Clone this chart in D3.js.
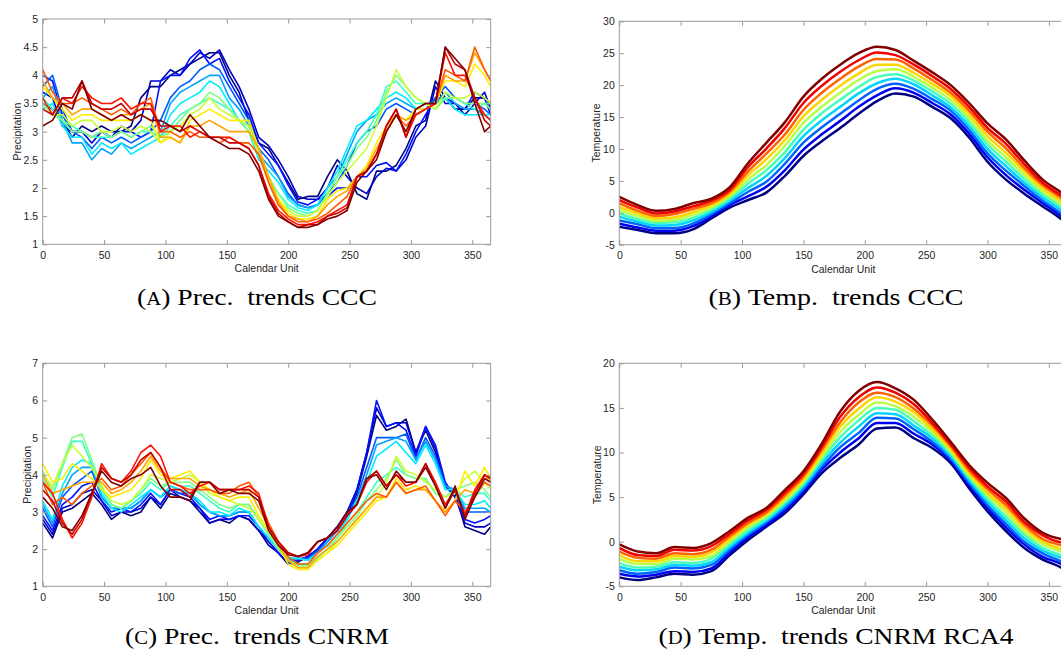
<!DOCTYPE html>
<html>
<head>
<meta charset="utf-8">
<script src="https://cdn.jsdelivr.net/npm/d3@7"></script>
<style>
  body { margin: 0; background: #fff; }
  svg { display: block; }
</style>
</head>
<body>
<svg id="fig" width="1061" height="654"></svg>
<script>
// ---------------- DATA ----------------
const xTicks = [0, 50, 100, 150, 200, 250, 300, 350];
const yTicksA = [1, 1.5, 2, 2.5, 3, 3.5, 4, 4.5, 5];
const yTicksB = [-5, 0, 5, 10, 15, 20, 25, 30];
const yTicksC = [1, 2, 3, 4, 5, 6, 7];
const yTicksD = [-5, 0, 5, 10, 15, 20];
const captions = ["Prec.\u2002trends CCC", "Temp.\u2002trends CCC", "Prec.\u2002trends CNRM", "Temp.\u2002trends CNRM RCA4"];
const captionLetters = ["A", "B", "C", "D"];

const dayPrec = [0,8,16,24,32,40,48,56,64,72,80,88,96,104,112,120,128,136,144,152,160,168,176,184,192,200,208,216,224,232,240,248,256,264,272,280,288,296,304,312,320,328,336,344,352,360,365];
const dayTemp = [0,15,30,45,60,75,90,105,120,135,150,165,180,195,210,225,240,255,270,285,300,315,330,345,360,365];

// (A) Precipitation CCC, members ordered blue -> red
const pA0  = [3.5,3.4,3.2,2.9,3.1,3.0,3.1,3.0,3.0,3.1,3.6,3.8,3.8,4.0,4.1,4.2,4.3,4.4,4.4,4.0,3.7,3.2,2.8,2.7,2.4,2.1,1.8,1.85,1.85,2.2,2.5,2.3,1.9,1.8,2.3,2.3,2.4,2.7,3.1,3.2,3.9,3.6,3.4,3.4,3.6,3.6,3.5];
const pA0b = [3.7,3.6,3.1,3.0,3.0,2.8,3.0,2.9,3.1,3.0,3.2,3.9,3.9,4.1,4.0,4.2,4.4,4.3,4.45,4.1,3.8,3.4,2.9,2.75,2.5,2.2,1.85,1.8,1.8,2.0,2.4,2.2,2.0,1.9,2.2,2.35,2.3,2.5,2.9,3.1,3.8,3.5,3.5,3.3,3.5,3.7,3.4];
const pA1  = [4.0,3.9,3.3,3.0,3.0,2.9,3.0,2.9,3.0,3.0,2.9,3.0,3.9,4.0,4.0,4.3,4.45,4.2,4.3,3.9,3.6,3.3,2.8,2.6,2.4,2.05,1.75,1.7,1.8,1.85,2.0,2.0,2.2,2.2,2.4,2.45,2.3,2.6,3.0,3.3,3.6,3.6,3.5,3.4,3.7,3.6,3.3];
const pA2  = [3.8,4.0,3.4,3.0,2.9,2.7,2.9,2.8,2.9,2.8,2.9,3.0,3.2,3.6,3.8,3.9,4.1,4.2,4.1,3.8,3.5,3.2,2.7,2.5,2.2,1.9,1.7,1.65,1.7,1.9,2.1,2.4,2.8,3.0,3.1,3.4,3.5,3.4,3.3,3.4,3.6,3.8,3.6,3.5,3.5,3.4,3.3];
const pA2b = [3.6,3.8,3.2,2.8,2.8,2.5,2.7,2.6,2.8,2.7,2.8,2.9,3.0,3.5,3.7,3.8,3.9,4.0,4.0,3.6,3.4,3.1,2.6,2.4,2.2,1.85,1.7,1.65,1.7,2.0,2.2,2.6,3.0,3.2,3.3,3.5,3.6,3.5,3.4,3.4,3.5,3.7,3.5,3.4,3.4,3.3,3.2];
const pA3  = [3.4,3.5,3.1,2.9,2.9,2.6,2.8,2.7,2.8,2.6,2.7,2.8,2.9,3.3,3.5,3.6,3.7,3.9,3.8,3.5,3.2,3.0,2.5,2.3,2.1,1.8,1.65,1.6,1.7,2.0,2.3,2.7,3.1,3.2,3.4,3.6,3.7,3.6,3.4,3.5,3.5,3.6,3.4,3.3,3.3,3.3,3.3];
const pA4  = [3.6,3.4,3.2,3.1,3.0,2.9,2.9,2.9,3.0,2.9,3.0,3.0,2.9,3.1,3.3,3.4,3.5,3.6,3.5,3.4,3.2,3.1,2.6,2.2,1.9,1.7,1.6,1.55,1.6,1.9,2.2,2.5,2.8,3.0,3.3,3.8,3.9,3.7,3.5,3.5,3.4,3.6,3.6,3.5,3.4,3.5,3.5];
const pA4b = [3.5,3.3,3.2,3.0,3.0,2.9,3.0,2.9,3.0,2.9,3.0,3.1,2.9,3.0,3.2,3.4,3.5,3.7,3.6,3.4,3.2,3.0,2.6,2.2,1.9,1.65,1.55,1.5,1.6,1.9,2.2,2.4,2.7,2.9,3.2,3.7,4.0,3.8,3.6,3.5,3.4,3.6,3.6,3.5,3.5,3.5,3.4];
const pA5  = [3.6,3.3,3.3,3.1,3.2,3.2,3.0,3.0,3.1,3.0,3.1,3.0,2.8,3.0,3.1,3.3,3.4,3.6,3.4,3.3,3.2,3.1,2.6,2.1,1.8,1.6,1.5,1.5,1.6,1.85,2.1,2.3,2.5,2.7,3.1,3.6,4.1,3.8,3.6,3.5,3.4,3.7,3.6,3.6,3.7,3.6,3.5];
const pA6  = [3.8,3.6,3.4,3.2,3.3,3.3,3.2,3.2,3.2,3.2,3.3,3.2,2.8,2.9,2.8,3.2,3.3,3.4,3.3,3.2,3.2,3.2,2.7,2.2,1.8,1.55,1.45,1.45,1.5,1.8,1.95,2.0,2.2,2.4,2.8,3.1,3.3,3.2,3.4,3.4,3.5,3.9,3.9,3.8,4.2,4.0,3.8];
const pA6b = [3.9,3.6,3.5,3.3,3.4,3.4,3.3,3.2,3.3,3.3,3.4,3.5,2.9,2.9,2.8,3.1,3.1,3.2,3.1,3.0,3.0,3.0,2.7,2.2,1.75,1.5,1.45,1.4,1.5,1.7,1.85,1.95,2.2,2.35,2.7,3.0,3.3,3.2,3.3,3.4,3.5,4.0,3.9,3.9,4.4,4.1,3.9];
const pA7  = [4.1,3.7,3.5,3.5,3.6,3.5,3.4,3.3,3.4,3.3,3.5,3.6,3.0,3.0,2.9,3.0,2.9,2.9,2.8,2.9,2.8,2.8,2.6,2.1,1.7,1.5,1.4,1.4,1.45,1.55,1.7,1.85,2.2,2.3,2.6,3.0,3.3,3.1,3.3,3.4,3.5,4.1,4.0,3.9,4.5,4.1,3.9];
const pA8  = [3.6,3.3,3.6,3.5,3.8,3.6,3.5,3.5,3.6,3.4,3.5,3.5,3.0,3.1,3.1,2.9,3.0,2.9,2.9,2.9,2.8,2.7,2.4,1.9,1.6,1.45,1.35,1.35,1.4,1.5,1.6,1.7,2.2,2.3,2.6,3.1,3.4,2.9,3.3,3.4,3.5,4.4,4.0,4.0,3.6,3.3,3.2];
const pA8b = [3.4,3.3,3.6,3.6,3.9,3.5,3.4,3.4,3.5,3.3,3.4,3.4,3.1,3.1,3.0,3.1,3.0,2.9,2.9,2.8,2.8,2.7,2.4,1.85,1.55,1.4,1.3,1.35,1.35,1.5,1.55,1.65,2.2,2.3,2.6,3.1,3.4,2.9,3.4,3.5,3.5,4.5,4.2,4.1,3.6,3.2,3.1];
const pA9  = [3.1,3.2,3.5,3.4,3.9,3.4,3.3,3.2,3.3,3.2,3.3,3.2,3.2,3.1,3.0,3.3,3.1,2.9,2.8,2.7,2.7,2.6,2.3,1.8,1.5,1.4,1.3,1.3,1.35,1.45,1.5,1.6,2.1,2.3,2.5,3.0,3.3,3.0,3.4,3.5,3.5,4.5,4.3,4.1,3.5,3.0,3.1];

// (B) Temperature CCC
const tB0 = [-2.2,-2.7,-3.2,-3.2,-2.6,-0.9,0.8,2.0,3.2,5.8,8.9,11.2,13.3,15.5,17.5,18.7,18.2,16.6,14.8,11.8,8.0,5.2,3.0,1.0,-1.0,-1.9];
const tB1 = [-1.7,-2.3,-2.8,-2.8,-2.1,-0.6,1.2,2.6,4.1,6.7,9.9,12.3,14.4,16.6,18.4,19.5,18.8,17.2,15.4,12.4,8.7,5.9,3.6,1.5,-0.5,-1.4];
const tB2 = [-1.2,-1.8,-2.4,-2.4,-1.7,-0.2,1.5,3.3,4.9,7.7,11.0,13.4,15.5,17.6,19.4,20.2,19.4,17.8,16.0,13.0,9.3,6.6,4.2,1.9,-0.1,-0.9];
const tB3 = [-0.6,-1.4,-2.0,-1.9,-1.2,0.1,1.9,3.9,5.8,8.6,12.0,14.5,16.6,18.7,20.3,21.0,20.1,18.4,16.5,13.6,10.0,7.3,4.7,2.4,0.4,-0.4];
const tB4 = [-0.1,-1.0,-1.6,-1.5,-0.8,0.5,2.2,4.6,6.7,9.5,13.0,15.6,17.7,19.7,21.3,21.7,20.7,19.0,17.1,14.2,10.7,8.0,5.3,2.9,0.9,0.1];
const tB5 = [0.4,-0.5,-1.3,-1.1,-0.3,0.8,2.6,5.2,7.5,10.5,14.1,16.6,18.8,20.8,22.2,22.5,21.3,19.6,17.7,14.8,11.3,8.7,5.9,3.3,1.3,0.5];
const tB6 = [0.9,-0.1,-0.9,-0.7,0.1,1.2,2.9,5.9,8.4,11.4,15.1,17.7,19.9,21.8,23.2,23.2,21.9,20.2,18.3,15.4,12.0,9.4,6.5,3.8,1.8,1.0];
const tB7 = [1.5,0.3,-0.5,-0.2,0.6,1.5,3.3,6.5,9.3,12.3,16.1,18.8,21.0,22.9,24.1,24.0,22.6,20.8,18.8,16.0,12.7,10.1,7.0,4.3,2.3,1.5];
const tB8 = [2.0,0.8,-0.1,0.2,1.0,1.9,3.6,7.2,10.1,13.3,17.2,19.9,22.1,23.9,25.1,24.7,23.2,21.4,19.4,16.6,13.3,10.8,7.6,4.7,2.7,2.0];
const tB9 = [2.5,1.2,0.3,0.6,1.5,2.2,4.0,7.8,11.0,14.2,18.2,21.0,23.2,25.0,26.0,25.5,23.8,22.0,20.0,17.2,14.0,11.5,8.2,5.2,3.2,2.5];

// (C) Precipitation CNRM
const pC0  = [2.7,2.3,3.0,3.1,3.3,3.5,3.2,2.8,3.0,2.9,3.0,3.4,3.1,3.5,3.4,3.3,3.0,2.7,2.8,2.7,2.9,2.8,2.5,2.1,1.9,1.6,1.65,1.8,2.0,2.3,2.5,2.9,3.5,4.5,5.6,5.2,5.3,5.5,4.6,5.2,4.6,3.7,3.5,2.6,2.5,2.4,2.6];
const pC0b = [2.8,2.4,3.1,3.2,3.5,3.6,3.3,2.9,3.0,3.0,3.1,3.4,3.2,3.6,3.4,3.3,3.1,2.7,2.8,2.8,2.9,2.8,2.5,2.2,1.9,1.6,1.7,1.8,2.0,2.3,2.6,3.0,3.6,4.6,5.8,5.3,5.4,5.4,4.6,5.3,4.7,3.7,3.4,2.7,2.6,2.6,2.7];
const pC1  = [2.9,2.5,3.2,3.4,3.7,3.8,3.3,3.0,3.1,3.0,3.2,3.5,3.2,3.6,3.5,3.4,3.1,2.8,2.9,2.8,2.9,2.9,2.6,2.2,1.9,1.65,1.7,1.8,2.0,2.3,2.6,3.0,3.6,4.6,6.0,5.3,5.4,5.2,4.5,5.3,4.8,3.8,3.4,2.8,2.7,2.8,2.9];
const pC2  = [3.1,2.6,3.4,3.7,3.9,4.1,3.4,3.1,3.1,3.1,3.3,3.6,3.4,3.6,3.5,3.5,3.2,3.0,2.9,2.9,3.0,3.0,2.6,2.3,2.0,1.7,1.75,1.75,1.95,2.2,2.5,2.9,3.4,4.2,5.0,5.0,5.0,5.1,4.4,5.0,4.5,3.7,3.6,3.0,3.0,3.0,3.0];
const pC2b = [3.2,2.7,3.5,4.0,4.2,4.2,3.4,3.1,3.1,3.1,3.3,3.6,3.4,3.7,3.6,3.5,3.2,3.0,2.9,2.9,3.0,3.0,2.6,2.3,2.0,1.75,1.75,1.7,1.9,2.2,2.5,2.8,3.3,4.0,4.8,4.9,5.0,4.9,4.4,4.9,4.4,3.7,3.6,3.1,3.1,3.1,3.0];
const pC3  = [3.3,2.8,3.7,4.2,4.4,4.3,3.5,3.1,3.0,3.2,3.4,3.6,3.4,3.7,3.6,3.5,3.3,3.0,3.0,2.9,3.1,3.0,2.6,2.3,2.0,1.75,1.75,1.7,1.9,2.1,2.4,2.8,3.3,3.8,4.5,4.7,4.9,4.6,4.3,4.8,4.3,3.6,3.6,3.2,3.2,3.3,3.1];
const pC4  = [3.9,3.4,4.2,4.9,4.9,4.3,3.6,3.2,3.1,3.3,3.5,3.8,3.6,3.8,3.7,3.7,3.5,3.3,3.1,3.0,3.2,3.2,2.8,2.4,2.0,1.7,1.6,1.6,1.8,2.0,2.3,2.7,3.0,3.4,3.8,4.0,4.2,4.0,3.9,3.9,3.5,3.4,3.6,3.4,3.5,3.5,3.3];
const pC4b = [4.1,3.6,4.3,5.0,5.1,4.4,3.7,3.2,3.1,3.3,3.6,3.9,3.7,3.8,3.8,3.8,3.6,3.4,3.2,3.1,3.2,3.2,2.8,2.4,2.0,1.7,1.55,1.55,1.75,2.0,2.3,2.6,2.9,3.3,3.6,3.9,4.4,4.0,3.9,3.9,3.5,3.4,3.6,3.7,3.8,3.6,3.4];
const pC5  = [4.0,3.7,4.3,4.8,4.5,4.2,3.7,3.3,3.2,3.3,3.6,4.0,3.9,3.8,3.9,4.0,3.8,3.5,3.4,3.3,3.2,3.1,2.8,2.5,2.1,1.7,1.5,1.5,1.7,1.9,2.2,2.5,2.8,3.1,3.4,3.8,4.5,4.1,4.0,3.8,3.6,3.4,3.5,3.9,4.1,3.8,3.6];
const pC6  = [4.3,3.8,3.9,4.3,4.1,3.9,3.6,3.4,3.5,3.6,3.9,4.4,4.0,3.9,4.0,4.1,3.8,3.6,3.4,3.3,3.4,3.4,2.9,2.5,2.1,1.6,1.45,1.45,1.7,1.9,2.1,2.4,2.7,3.0,3.3,3.4,3.9,3.6,3.7,3.6,3.3,3.0,3.3,4.1,3.7,4.2,3.9];
const pC6b = [4.0,3.5,3.6,3.7,3.8,3.8,3.8,3.5,3.6,3.8,4.1,4.5,4.1,3.9,3.9,3.9,3.7,3.6,3.5,3.4,3.5,3.6,3.1,2.6,2.1,1.7,1.5,1.5,1.8,2.0,2.2,2.5,2.8,3.1,3.4,3.4,3.8,3.5,3.6,3.6,3.3,3.0,3.3,3.6,3.5,4.0,3.8];
const pC7  = [3.8,3.2,3.4,3.2,3.5,3.7,3.9,3.6,3.7,4.0,4.3,4.6,4.2,3.8,3.7,3.6,3.6,3.6,3.5,3.5,3.7,3.8,3.4,2.7,2.2,1.8,1.6,1.6,1.9,2.1,2.4,2.7,3.0,3.3,3.5,3.4,3.8,3.5,3.6,3.7,3.3,2.9,3.3,3.0,3.4,3.8,3.7];
const pC8  = [3.8,3.5,2.8,2.3,2.7,3.4,4.3,3.9,3.8,4.1,4.6,4.8,4.5,3.8,3.7,3.5,3.7,3.8,3.6,3.6,3.6,3.7,3.5,2.6,2.2,1.9,1.8,1.85,2.2,2.3,2.5,2.9,3.2,3.8,4.1,3.7,4.0,3.7,3.8,4.3,3.8,3.2,3.6,2.9,3.6,4.0,3.9];
const pC8b = [3.6,3.3,2.7,2.4,2.8,3.5,4.2,3.9,3.8,4.0,4.4,4.6,4.2,3.6,3.6,3.4,3.8,3.8,3.6,3.6,3.6,3.6,3.4,2.6,2.2,1.9,1.8,1.9,2.2,2.3,2.5,2.9,3.2,3.9,4.1,3.7,4.0,3.8,3.8,4.3,3.7,3.1,3.6,2.9,3.5,4.0,3.9];
const pC9  = [3.4,3.1,2.6,2.5,2.9,3.5,4.1,3.8,3.7,3.9,4.0,4.2,3.7,3.4,3.4,3.3,3.8,3.8,3.5,3.6,3.5,3.5,3.3,2.5,2.1,1.85,1.8,1.9,2.2,2.3,2.6,3.0,3.2,3.9,4.0,3.6,4.1,3.8,3.8,4.2,3.7,3.1,3.7,2.8,3.4,3.9,3.8];

// (D) Temperature CNRM RCA4
const tD0 = [-4.0,-4.3,-4.0,-3.6,-3.7,-3.3,-1.5,0.2,1.7,3.2,5.3,7.7,9.4,10.9,12.7,12.8,11.6,10.5,8.8,6.0,3.4,1.2,-0.7,-2.0,-2.9,-3.3];
const tD1 = [-3.6,-3.9,-3.7,-3.3,-3.4,-3.0,-1.2,0.5,1.9,3.5,5.6,8.1,10.0,11.6,13.3,13.3,12.1,10.9,9.1,6.3,3.8,1.6,-0.3,-1.7,-2.5,-2.9];
const tD2 = [-3.2,-3.6,-3.4,-2.9,-3.0,-2.6,-0.9,0.8,2.2,3.8,5.9,8.4,10.6,12.2,13.9,13.8,12.6,11.2,9.3,6.6,4.1,2.0,0.0,-1.3,-2.2,-2.5];
const tD3 = [-2.8,-3.2,-3.1,-2.6,-2.7,-2.3,-0.6,1.0,2.4,4.1,6.2,8.8,11.1,12.9,14.4,14.3,13.0,11.6,9.6,6.9,4.5,2.4,0.4,-1.0,-1.8,-2.1];
const tD4 = [-2.4,-2.9,-2.8,-2.3,-2.4,-1.9,-0.3,1.3,2.6,4.4,6.5,9.2,11.7,13.6,15.0,14.8,13.5,11.9,9.9,7.2,4.8,2.8,0.8,-0.7,-1.5,-1.7];
const tD5 = [-1.9,-2.5,-2.5,-1.9,-2.0,-1.6,0.0,1.6,2.9,4.6,6.7,9.5,12.3,14.2,15.6,15.2,14.0,12.3,10.1,7.4,5.2,3.3,1.1,-0.3,-1.1,-1.4];
const tD6 = [-1.5,-2.2,-2.2,-1.6,-1.7,-1.2,0.3,1.9,3.1,4.9,7.0,9.9,12.9,14.9,16.2,15.7,14.5,12.6,10.4,7.7,5.5,3.7,1.5,0.0,-0.8,-1.0];
const tD7 = [-1.1,-1.8,-1.9,-1.3,-1.4,-0.9,0.6,2.1,3.3,5.2,7.3,10.3,13.4,15.6,16.7,16.2,14.9,13.0,10.7,8.0,5.9,4.1,1.9,0.3,-0.4,-0.6];
const tD8 = [-0.7,-1.5,-1.6,-0.9,-1.0,-0.5,0.9,2.4,3.6,5.5,7.6,10.6,14.0,16.2,17.3,16.7,15.4,13.3,10.9,8.3,6.2,4.5,2.2,0.7,-0.1,-0.2];
const tD9 = [-0.3,-1.1,-1.3,-0.6,-0.7,-0.15,1.2,2.7,3.8,5.8,7.9,11.0,14.6,16.9,17.9,17.2,15.9,13.7,11.2,8.6,6.6,4.9,2.6,1.0,0.3,0.2];

// ---------------- STYLE ----------------
function jet(t) {
  const c = v => Math.max(0, Math.min(1, v));
  const r = c(1.5 - Math.abs(4 * t - 3));
  const g = c(1.5 - Math.abs(4 * t - 2));
  const b = c(1.5 - Math.abs(4 * t - 1));
  return d3.rgb(r * 255, g * 255, b * 255).toString();
}

const panels = [
  { left: 42.7, top: 19, w: 448, h: 225.3, ydom: [1, 5], yTicks: yTicksA, ylab: "Precipitation", ylabX: 16.7,
    days: dayPrec, series: [pA0,pA0b,pA1,pA2,pA2b,pA3,pA4,pA4b,pA5,pA6,pA6b,pA7,pA8,pA8b,pA9], curve: d3.curveLinear, lw: 1.6 },
  { left: 619.3, top: 21.3, w: 448, h: 223.4, ydom: [-5, 30], yTicks: yTicksB, ylab: "Temperature", ylabX: 596,
    days: dayTemp, series: [tB0,tB1,tB2,tB3,tB4,tB5,tB6,tB7,tB8,tB9], curve: d3.curveMonotoneX, lw: 2.5 },
  { left: 42.7, top: 363.3, w: 448, h: 223, ydom: [1, 7], yTicks: yTicksC, ylab: "Precipitation", ylabX: 26.7,
    days: dayPrec, series: [pC0,pC0b,pC1,pC2,pC2b,pC3,pC4,pC4b,pC5,pC6,pC6b,pC7,pC8,pC8b,pC9], curve: d3.curveLinear, lw: 1.6 },
  { left: 619.3, top: 363.3, w: 448, h: 223, ydom: [-5, 20], yTicks: yTicksD, ylab: "Temperature", ylabX: 596.7,
    days: dayTemp, series: [tD0,tD1,tD2,tD3,tD4,tD5,tD6,tD7,tD8,tD9], curve: d3.curveMonotoneX, lw: 2.5 }
];

const capPos = [
  { x: 257, y: 305, w: 240 }, { x: 836, y: 305, w: 255 },
  { x: 257, y: 644, w: 264 }, { x: 836, y: 644, w: 355 }
];

const svg = d3.select("#fig");
const axisColor = "#9a9a9a";
const textColor = "#262626";
const sansFont = "'Liberation Sans', Arial, Helvetica, sans-serif";

panels.forEach((p, pi) => {
  const x = d3.scaleLinear().domain([0, 365]).range([0, p.w]);
  const y = d3.scaleLinear().domain(p.ydom).range([p.h, 0]);
  const g = svg.append("g").attr("transform", `translate(${p.left},${p.top})`);

  g.append("defs").append("clipPath").attr("id", "clip" + pi)
    .append("rect").attr("width", p.w).attr("height", p.h);

  const line = d3.line().x((d, i) => x(p.days[i])).y(d => y(d)).curve(p.curve);
  const n = p.series.length;
  g.append("g").attr("clip-path", `url(#clip${pi})`)
    .selectAll("path").data(p.series).join("path")
    .attr("d", line)
    .attr("fill", "none")
    .attr("stroke", (d, i) => jet(i / (n - 1)))
    .attr("stroke-width", p.lw)
    .attr("stroke-linejoin", "round");

  const fmt = d => String(d);
  const styleAxis = sel => {
    sel.select(".domain").remove();
    sel.selectAll(".tick line").attr("stroke", axisColor);
    sel.selectAll(".tick text").attr("fill", textColor).attr("font-size", "10.5px").attr("font-family", sansFont);
  };
  g.append("g").attr("transform", `translate(0,${p.h})`)
    .call(d3.axisBottom(x).tickValues(xTicks).tickSize(-4.5).tickPadding(7).tickFormat(fmt)).call(styleAxis);
  g.append("g")
    .call(d3.axisTop(x).tickValues(xTicks).tickSize(-4.5).tickFormat("")).call(styleAxis);
  g.append("g")
    .call(d3.axisLeft(y).tickValues(p.yTicks).tickSize(-4.5).tickPadding(4.5).tickFormat(fmt)).call(styleAxis);
  g.append("g").attr("transform", `translate(${p.w},0)`)
    .call(d3.axisRight(y).tickValues(p.yTicks).tickSize(-4.5).tickFormat("")).call(styleAxis);

  g.append("rect").attr("width", p.w).attr("height", p.h)
    .attr("fill", "none").attr("stroke", axisColor).attr("stroke-width", 1);

  g.append("text").attr("x", p.w / 2).attr("y", p.h + 28)
    .attr("text-anchor", "middle").attr("fill", textColor)
    .attr("font-family", sansFont).attr("font-size", "10.5px")
    .text("Calendar Unit");

  svg.append("text")
    .attr("transform", `translate(${p.ylabX},${p.top + p.h / 2}) rotate(-90)`)
    .attr("text-anchor", "middle").attr("dominant-baseline", "central")
    .attr("fill", textColor).attr("font-family", sansFont).attr("font-size", "10.5px")
    .text(p.ylab);

  const cp = capPos[pi];
  const t = svg.append("text")
    .attr("x", cp.x - cp.w / 2).attr("y", cp.y)
    .attr("fill", "#000")
    .attr("font-family", "'Liberation Serif', 'Times New Roman', serif")
    .attr("font-size", "24px")
    .attr("textLength", cp.w).attr("lengthAdjust", "spacingAndGlyphs");
  t.append("tspan").text("(");
  t.append("tspan").attr("font-size", "18px").text(captionLetters[pi]);
  t.append("tspan").text(") " + captions[pi]);
});
</script>
</body>
</html>
